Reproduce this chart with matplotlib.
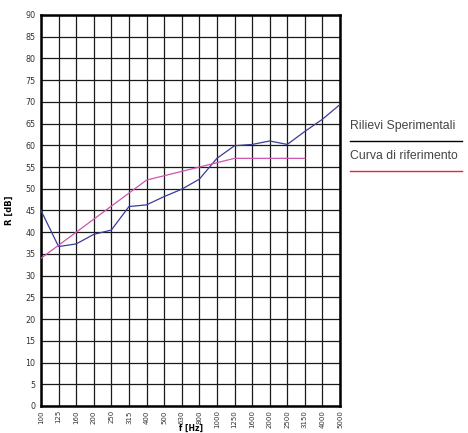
import matplotlib
matplotlib.use('Agg')
import matplotlib.pyplot as plt
from matplotlib.lines import Line2D

# bande di terzo d'ottava
freqs = ['100', '125', '160', '200', '250', '315', '400', '500', '630',
         '800', '1000', '1250', '1600', '2000', '2500', '3150', '4000', '5000']

# potere fonoisolante misurato
rilievi = [45.0, 36.7, 37.3, 39.5, 40.5, 45.9, 46.3, 48.2, 49.9,
           52.2, 57.0, 59.9, 60.2, 61.0, 60.2, 63.2, 66.0, 69.4]

# curva di riferimento traslata (fino a 3150 Hz)
riferimento = [34, 37, 40, 43, 46, 49, 52, 53, 54, 55, 56, 57, 57, 57, 57, 57]

fig = plt.figure(figsize=(4.68, 4.33), dpi=100)
ax = fig.add_axes([0.0876, 0.0624, 0.639, 0.903])

x = list(range(len(freqs)))
ax.plot(x, rilievi, color='#3b3b9c', lw=0.9, zorder=3)
ax.plot(x[:len(riferimento)], riferimento, color='#cc55b0', lw=0.9, zorder=3)

ax.set_xlim(0, len(freqs) - 1)
ax.set_ylim(0, 90)
ax.set_xticks(x)
ax.set_xticklabels(freqs, rotation=90, fontsize=5.0, color='#333333')
ax.set_yticks(range(0, 91, 5))
ax.tick_params(axis='y', labelsize=5.8, labelcolor='#333333', pad=4)
ax.tick_params(axis='x', pad=3)
ax.tick_params(length=0)

ax.grid(True, color='#1a1a1a', lw=0.9)
ax.set_axisbelow(True)
for s in ax.spines.values():
    s.set_linewidth(1.8)
    s.set_color('black')

ax.set_xlabel('f [Hz]', fontsize=5.5, fontweight='bold', va='top')
ax.xaxis.set_label_coords(0.5, -0.046)
ax.set_ylabel('R [dB]', fontsize=6, fontweight='bold', labelpad=8)

# legenda a destra del grafico
fig.text(0.748, 0.709, 'Rilievi Sperimentali', fontsize=8.8, color='#444444',
         family='Liberation Sans', va='center')
fig.add_artist(Line2D([0.748, 0.987], [0.674, 0.674], color='black', lw=1.0))
fig.text(0.748, 0.639, 'Curva di riferimento', fontsize=8.8, color='#444444',
         family='Liberation Sans', va='center')
fig.add_artist(Line2D([0.748, 0.987], [0.605, 0.605], color='#e8262e', lw=1.0))

fig.savefig('out.png', dpi=100)
